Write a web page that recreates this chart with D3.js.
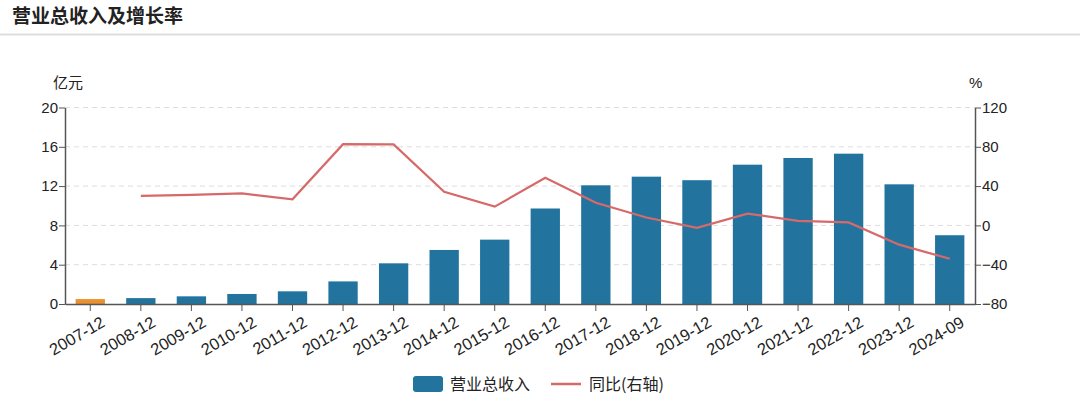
<!DOCTYPE html>
<html>
<head>
<meta charset="utf-8">
<script src="https://cdn.jsdelivr.net/npm/d3@7"></script>
<style>
  body { margin: 0; background: #fff; font-family: "Liberation Sans", "Noto Sans CJK SC", sans-serif; }
  .axis text { font-size: 15px; fill: #222; }
  .axis path, .axis line { stroke: #555; }
</style>
</head>
<body>
<div class="chart"></div>
<script>
// data
const periods = ["2007-12","2008-12","2009-12","2010-12","2011-12","2012-12","2013-12","2014-12","2015-12",
  "2016-12","2017-12","2018-12","2019-12","2020-12","2021-12","2022-12","2023-12","2024-09"];
const revenue = [0.5, 0.6, 0.78, 1.02, 1.29, 2.3, 4.14, 5.5, 6.55, 9.72, 12.08, 12.96, 12.6, 14.18, 14.86, 15.3, 12.18, 7.0];
const growth = [null, 30, 31, 32.6, 26.5, 82.7, 82.5, 34.3, 19.1, 48.4, 23.1, 8, -2.4, 12, 4.6, 3, -19.6, -34];
const leftTicks = [0, 4, 8, 12, 16, 20];
const rightTicks = [-80, -40, 0, 40, 80, 120];

const W = 1080, H = 413;
const MARGIN = {TOP: 107.5, BOTTOM: 109, LEFT: 65, RIGHT: 105};
const DIM = {WIDTH: W - MARGIN.LEFT - MARGIN.RIGHT, HEIGHT: H - MARGIN.TOP - MARGIN.BOTTOM};

const svg = d3.select(".chart").append("svg")
    .attr("width", W)
    .attr("height", H);

// title + separator
svg.append("text")
    .attr("x", 12).attr("y", 23)
    .attr("font-size", 19).attr("font-weight", "bold")
    .attr("fill", "#222")
    .attr("font-family", "Noto Sans CJK SC")
    .text("营业总收入及增长率");
svg.append("line")
    .attr("x1", 0).attr("x2", W)
    .attr("y1", 34.5).attr("y2", 34.5)
    .attr("stroke", "#ddd").attr("stroke-width", 2);

const graph = svg.append("g")
    .attr("transform", `translate(${MARGIN.LEFT}, ${MARGIN.TOP})`);

// scales
const x = d3.scaleBand().domain(periods).range([0, DIM.WIDTH]).paddingInner(0.42).paddingOuter(0.21);
const xc = d => x(d) + x.bandwidth() / 2;
const y = d3.scaleLinear().domain([0, 20]).range([DIM.HEIGHT, 0]);
const y2 = d3.scaleLinear().domain([-80, 120]).range([DIM.HEIGHT, 0]);

// grid
graph.selectAll(".grid").data(leftTicks.slice(1))
    .enter().append("line")
    .attr("x1", 0).attr("x2", DIM.WIDTH)
    .attr("y1", d => y(d)).attr("y2", d => y(d))
    .attr("stroke", "#ddd").attr("stroke-dasharray", "5,4");

// bars
graph.selectAll(".bar").data(revenue)
    .enter().append("rect")
    .attr("x", (d, i) => x(periods[i]))
    .attr("width", x.bandwidth())
    .attr("y", d => y(d))
    .attr("height", d => DIM.HEIGHT - y(d))
    .attr("fill", (d, i) => i === 0 ? "#e8912e" : "#22749e");

// growth line
const line = d3.line()
    .defined(d => d.v !== null)
    .x(d => xc(d.p))
    .y(d => y2(d.v));
graph.append("path")
    .datum(periods.map((p, i) => ({p: p, v: growth[i]})))
    .attr("d", line)
    .attr("fill", "none")
    .attr("stroke", "#d66a6a")
    .attr("stroke-width", 2.2);

// axes
graph.append("g").attr("class", "axis")
    .call(d3.axisLeft(y).tickValues(leftTicks).tickSize(6).tickSizeOuter(0))
    .selectAll("text").attr("x", -7);
graph.append("g").attr("class", "axis")
    .attr("transform", `translate(${DIM.WIDTH},0)`)
    .call(d3.axisRight(y2).tickValues(rightTicks).tickSize(6).tickSizeOuter(0))
    .selectAll("text").attr("x", 7);
const xAxis = graph.append("g").attr("class", "axis")
    .attr("transform", `translate(0,${DIM.HEIGHT})`)
    .call(d3.axisBottom(x).tickSize(7).tickSizeOuter(0));
xAxis.selectAll("text")
    .style("font-size", "16.5px")
    .attr("text-anchor", "end")
    .attr("transform", "translate(5,3) rotate(-30)")
    .attr("dy", "0.7em");
graph.selectAll(".axis .domain").attr("stroke-width", 1.5);

// unit labels
graph.append("text").attr("x", -12).attr("y", -20)
    .attr("font-size", 15).attr("fill", "#222")
    .attr("font-family", "Noto Sans CJK SC").text("亿元");
graph.append("text").attr("x", DIM.WIDTH - 6).attr("y", -20)
    .attr("font-size", 15).attr("fill", "#222").text("%");

// legend
const legend = svg.append("g").attr("transform", "translate(413,384)");
legend.append("rect").attr("x", 0).attr("y", -8).attr("width", 30).attr("height", 16)
    .attr("rx", 3).attr("fill", "#22749e");
legend.append("text").attr("x", 37).attr("y", 6).attr("font-size", 16)
    .attr("font-family", "Noto Sans CJK SC").attr("fill", "#222").text("营业总收入");
legend.append("line").attr("x1", 138).attr("x2", 168).attr("y1", 0).attr("y2", 0)
    .attr("stroke", "#d66a6a").attr("stroke-width", 2.5);
legend.append("text").attr("x", 176).attr("y", 6).attr("font-size", 16)
    .attr("font-family", "Noto Sans CJK SC").attr("fill", "#222").text("同比(右轴)");
</script>
</body>
</html>
